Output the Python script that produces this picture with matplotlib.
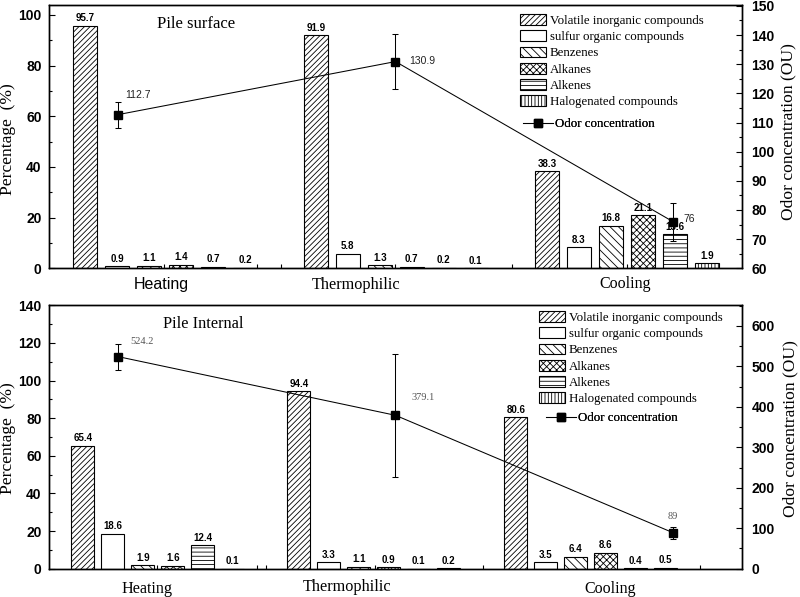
import matplotlib
matplotlib.use('Agg')
import matplotlib.pyplot as plt
from matplotlib.patches import Patch
from matplotlib.lines import Line2D
from matplotlib.ticker import MultipleLocator

plt.rcParams['hatch.linewidth'] = 0.6
SANS = 'Liberation Sans'
SERIF = 'Liberation Serif'

# ---------------- data ----------------
categories = ['Volatile inorganic compounds', 'sulfur organic compounds', 'Benzenes',
              'Alkanes', 'Alkenes', 'Halogenated compounds']
stages = ['Heating', 'Thermophilic', 'Cooling']

surface_heating = [95.7, 0.9, 1.1, 1.4, 0.7, 0.2]
surface_thermophilic = [91.9, 5.8, 1.3, 0.7, 0.2, 0.1]
surface_cooling = [38.3, 8.3, 16.8, 21.1, 13.6, 1.9]
surface_odor = [112.7, 130.9, 76]
surface_odor_err = [4.5, 9.5, 6.5]

internal_heating = [65.4, 18.6, 1.9, 1.6, 12.4, 0.1]
internal_thermophilic = [94.4, 3.3, 1.1, 0.9, 0.1, 0.2]
internal_cooling = [80.6, 3.5, 6.4, 8.6, 0.4, 0.5]
internal_odor = [524.2, 379.1, 89]
internal_odor_err = [32, 152, 15]

hatches = ['//////', '', '\\\\\\\\', 'xxxxx', '----', '|||||']

# ---------------- layout ----------------
W, H = 800, 597
fig = plt.figure(figsize=(W / 100, H / 100), dpi=100)


def px_rect(l, t, r, b):
    return [l / W, 1 - b / H, (r - l) / W, (b - t) / H]


def fx(x):
    return x / W


def fy(y):
    return 1 - y / H


odor_x = [1, 2, 3]
XLIM = (0.7514, 3.2497)


def draw_panel(ax, groups, starts, step, width, odor, err, ylim_l, ylim_r,
               left_major, right_major, xticks, odor_lbl, odor_font, odor_color):
    for g, vals in enumerate(groups):
        for i, v in enumerate(vals):
            x = starts[g] + i * step
            ax.bar(x, v, width=width, facecolor='white', edgecolor='black',
                   hatch=hatches[i], linewidth=0.8, zorder=2)
            ax.annotate(f'{v:g}', (x, v), xytext=(0, 3.1), textcoords='offset points',
                        ha='center', va='baseline', fontsize=7, fontweight='bold',
                        family=SANS, zorder=3)
    ax.set_xlim(*XLIM)
    ax.set_ylim(*ylim_l)
    ax.yaxis.set_major_locator(MultipleLocator(left_major))
    ax.yaxis.set_minor_locator(MultipleLocator(left_major / 2))
    ax.set_xticks(xticks)
    ax.set_xticklabels([])
    ax.tick_params(axis='x', direction='in', length=3, width=0.8)
    ax.tick_params(axis='y', which='major', direction='in', length=4, width=0.8, pad=5.3)
    ax.tick_params(axis='y', which='minor', direction='in', length=2.2, width=0.8)
    for lab in ax.get_yticklabels():
        lab.set_fontfamily(SANS)
        lab.set_fontweight('bold')
        lab.set_fontsize(10)
    for s in ax.spines.values():
        s.set_linewidth(1.0)

    ax2 = ax.twinx()
    ax2.set_ylim(*ylim_r)
    ax2.yaxis.set_major_locator(MultipleLocator(right_major))
    ax2.yaxis.set_minor_locator(MultipleLocator(right_major / 2))
    ax2.tick_params(axis='y', which='major', direction='in', length=4, width=0.8, pad=6.5)
    ax2.tick_params(axis='y', which='minor', direction='in', length=2.2, width=0.8)
    for lab in ax2.get_yticklabels():
        lab.set_fontfamily(SANS)
        lab.set_fontweight('bold')
        lab.set_fontsize(10)
    for s in ax2.spines.values():
        s.set_linewidth(1.0)
    ax2.errorbar(odor_x, odor, yerr=err, fmt='-s', color='black', ms=5.8, lw=0.75,
                 elinewidth=0.75, capsize=2.5, capthick=0.75)
    for (x, v, (dx, dy, ha)) in zip(odor_x, odor, odor_lbl):
        ax2.annotate(f'{v:g}', (x, v), xytext=(dx * 0.72, dy * 0.72), textcoords='offset points',
                     ha=ha, va='baseline', fontsize=7.5, family=odor_font, color=odor_color)
    return ax2


def add_legend(ax, x_patch, y_row1, x_line, y_line):
    handles = [Patch(facecolor='white', edgecolor='black', hatch=h, linewidth=0.8) for h in hatches]
    leg = ax.legend(handles, categories, loc='upper left',
                    bbox_to_anchor=(fx(x_patch), fy(y_row1 - 7.5)), bbox_transform=fig.transFigure,
                    frameon=False, borderpad=0, borderaxespad=0, handlelength=2.0, handleheight=0.93,
                    handletextpad=0.31, labelspacing=0.25, prop={'family': SERIF, 'size': 9.3})
    ax.add_artist(leg)
    lh = Line2D([], [], color='black', marker='s', ms=5.8, lw=0.75)
    leg2 = ax.legend([lh], ['Odor concentration'], loc='upper left',
                     bbox_to_anchor=(fx(x_line), fy(y_line - 5)), bbox_transform=fig.transFigure,
                     frameon=False, borderpad=0, borderaxespad=0, handlelength=2.3,
                     handletextpad=0.2, prop={'family': SERIF, 'size': 9.3})
    ax.add_artist(leg2)


# ---------------- top panel ----------------
ax_top = fig.add_axes(px_rect(49, 5, 742.3, 268.3))
ax_top2 = draw_panel(ax_top, [surface_heating, surface_thermophilic, surface_cooling],
                     [0.881, 1.713, 2.546], 0.1153, 0.0865,
                     surface_odor, surface_odor_err, (0, 103.9), (60, 150.3), 20, 10,
                     [1.165, 1.50, 1.587, 2.0, 2.42, 2.834],
                     [(7, 17, 'left'), (14, -2, 'left'), (10, 0, 'left')], SANS, '#222222')
add_legend(ax_top2, 520, 21.7, 523, 123.3)

# ---------------- bottom panel ----------------
ax_bot = fig.add_axes(px_rect(49, 305.3, 742.3, 568.7))
ax_bot2 = draw_panel(ax_bot, [internal_heating, internal_thermophilic, internal_cooling],
                     [0.8735, 1.652, 2.434], 0.108, 0.083,
                     internal_odor, internal_odor_err, (0, 140), (0, 651), 20, 100,
                     [1.0, 1.14, 1.50, 1.533, 1.926, 2.315, 3.097],
                     [(12, 12.7, 'left'), (16, 15, 'left'), (0, 14, 'center')], SERIF, '#555555')
add_legend(ax_bot2, 539, 318.7, 546, 417)

# ---------------- texts ----------------
fig.text(fx(157), fy(28), 'Pile surface', family=SERIF, fontsize=12, va='baseline', ha='left')
fig.text(fx(163), fy(328), 'Pile Internal', family=SERIF, fontsize=11.7, va='baseline', ha='left')

fig.text(fx(161), fy(289), stages[0], family=SANS, fontsize=11.5, ha='center', va='baseline')
fig.text(fx(356), fy(289), stages[1], family=SERIF, fontsize=11.7, ha='center', va='baseline')
fig.text(fx(625), fy(288), stages[2], family=SERIF, fontsize=11.5, ha='center', va='baseline')
fig.text(fx(147), fy(593), stages[0], family=SERIF, fontsize=11.6, ha='center', va='baseline')
fig.text(fx(347), fy(591), stages[1], family=SERIF, fontsize=11.7, ha='center', va='baseline')
fig.text(fx(610), fy(593), stages[2], family=SERIF, fontsize=11.5, ha='center', va='baseline')

for yc in (139, 438):
    fig.text(fx(8), fy(yc), 'Percentage  (%)', family=SERIF, fontsize=12.6, rotation=90,
             ha='center', va='center')
for xc, yc in ((788, 131.7), (790, 428.7)):
    fig.text(fx(xc), fy(yc), 'Odor concentration (OU)', family=SERIF, fontsize=12.6, rotation=90,
             ha='center', va='center')

fig.savefig('out.png', dpi=100)
